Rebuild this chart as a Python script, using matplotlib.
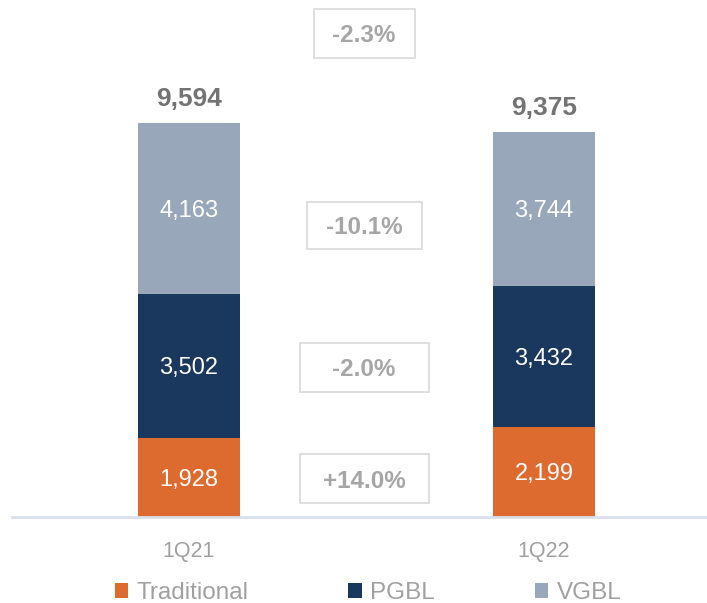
import matplotlib
matplotlib.use("Agg")
import matplotlib.pyplot as plt
from matplotlib.patches import Rectangle, Patch
import numpy as np

plt.rcParams['font.family'] = ['Liberation Sans', 'DejaVu Sans']

categories = ["1Q21", "1Q22"]
series_names = ["Traditional", "PGBL", "VGBL"]
traditional = [1928, 2199]
pgbl = [3502, 3432]
vgbl = [4163, 3744]
totals = [9594, 9375]
changes = ["+14.0%", "-2.0%", "-10.1%", "-2.3%"]

colors = ["#DD6A2E", "#1A375E", "#98A7B9"]

W, H = 707, 603
fig = plt.figure(figsize=(W / 100, H / 100), dpi=100)

base_px = 517
ax = fig.add_axes([12 / W, (H - base_px) / H, 1 - 12 / W, base_px / H])
scale = (517 - 123) / 9594.0  # px per unit
ax.set_ylim(0, base_px / scale)
k = 355.0
ax.set_xlim(-(189 - 12) / k, (707 - 189) / k)
x = np.arange(len(categories))
bw = 102 / k

bottom = np.zeros(len(categories))
for vals, c in zip([traditional, pgbl, vgbl], colors):
    vals = np.array(vals)
    ax.bar(x, vals, bw, bottom=bottom, color=c, zorder=2)
    for xi, v, b in zip(x, vals, bottom):
        ax.text(xi, b + v / 2, f"{v:,}", ha="center", va="center_baseline",
                color="white", fontsize=17, zorder=3)
    bottom += vals

for xi, t in zip(x, totals):
    ax.annotate(f"{t:,}", (xi, t), xytext=(0, 12), textcoords="offset points",
                ha="center", va="baseline", fontsize=19, fontweight="bold",
                color="#737373")

box_cy = [478.5, 367.5, 225.5, 33.5]
box_w = [129, 129, 115, 101]
box_h = [49, 49, 47, 49]
cx_px = 364
for lab, cy, bwid, bh in zip(changes, box_cy, box_w, box_h):
    left = (cx_px - bwid / 2) / W
    bot = (H - cy - bh / 2) / H
    fig.patches.append(Rectangle((left, bot), bwid / W, bh / H,
                                 transform=fig.transFigure, facecolor="white",
                                 edgecolor="#D9D9D9", linewidth=1.2, zorder=5))
    fig.text(cx_px / W, (H - cy) / H, lab, ha="center", va="center_baseline",
             fontsize=17.5, fontweight="bold", color="#A6A6A6", zorder=6)

for s in ["top", "right", "left"]:
    ax.spines[s].set_visible(False)
ax.spines["bottom"].set_color("#D9E0EC")
ax.spines["bottom"].set_linewidth(2)
ax.set_yticks([])
ax.set_xticks(x)
ax.set_xticklabels(categories, fontsize=15.5, color="#A0A0A0")
ax.tick_params(axis="x", length=0, pad=17)

handles = [Patch(facecolor=c, edgecolor="none") for c in colors]
leg = fig.legend(handles, series_names, loc="center", ncol=3,
                 bbox_to_anchor=(368 / W, 10 / H), frameon=False,
                 fontsize=17.5, labelcolor="#A0A0A0", columnspacing=4.1,
                 handletextpad=0.35, handlelength=0.55, handleheight=0.55)

fig.savefig("out.png", dpi=100)
